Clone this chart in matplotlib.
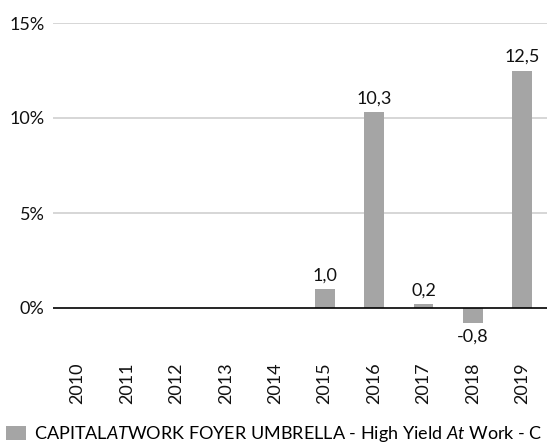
import matplotlib
matplotlib.use('Agg')
import matplotlib.pyplot as plt
import numpy as np
from matplotlib.patches import Patch

years = ['2010', '2011', '2012', '2013', '2014', '2015', '2016', '2017', '2018', '2019']
returns = [np.nan, np.nan, np.nan, np.nan, np.nan, 1.0, 10.3, 0.2, -0.8, 12.5]
y_ticks = [0, 5, 10, 15]
series_name = r'CAPITAL$\mathit{AT}$WORK FOYER UMBRELLA - High Yield $\mathit{At}$ Work - C'

FONT = 'Lato'
plt.rcParams['font.family'] = FONT
plt.rcParams['mathtext.fontset'] = 'custom'
plt.rcParams['mathtext.rm'] = FONT
plt.rcParams['mathtext.it'] = FONT + ':italic'

bar_color = '#a5a5a5'
text_color = '#111111'
fs = 13


def main():
    fig = plt.figure(figsize=(5.55, 4.46), dpi=100)
    ax = fig.add_axes([53 / 555, 1 - 346 / 446, (547 - 53) / 555, (346 - 23) / 446])

    x = np.arange(len(years))
    ax.bar(x, returns, width=0.4, color=bar_color, zorder=3)

    #  data labels with comma decimals
    for xi, v in zip(x, returns):
        if np.isnan(v):
            continue
        lbl = ('%.1f' % v).replace('.', ',')
        if v >= 0:
            ax.annotate(lbl, (xi, v), xytext=(0, 4), textcoords='offset points',
                        ha='center', va='bottom', fontsize=fs, color=text_color)
        else:
            ax.annotate(lbl, (xi, v), xytext=(0, -4), textcoords='offset points',
                        ha='center', va='top', fontsize=fs, color=text_color)

    ax.set_xlim(-0.5, len(years) - 0.5)
    ax.set_ylim(-2, 15)
    ax.set_yticks(y_ticks)
    ax.set_yticklabels(['%d%%' % t for t in y_ticks], fontsize=fs, color=text_color)
    ax.set_xticks(x)
    ax.set_xticklabels(years, rotation=90, fontsize=fs, color=text_color)
    ax.tick_params(axis='y', length=0, pad=6)
    ax.tick_params(axis='x', length=0, pad=12)

    for t in y_ticks[1:]:
        ax.axhline(t, color='#d0d0d0', linewidth=1.2, zorder=1)
    ax.axhline(0, color='#000000', linewidth=1.2, zorder=4)

    for s in ax.spines.values():
        s.set_visible(False)

    handle = Patch(facecolor=bar_color, edgecolor='none')
    fig.legend([handle], [series_name], loc='lower left', bbox_to_anchor=(4 / 555, 0.0),
               frameon=False, fontsize=fs, handlelength=1.1, handleheight=0.8,
               handletextpad=0.45, borderaxespad=0.0, borderpad=0.1)

    fig.savefig('out.png', dpi=100)


if __name__ == '__main__':
    main()
